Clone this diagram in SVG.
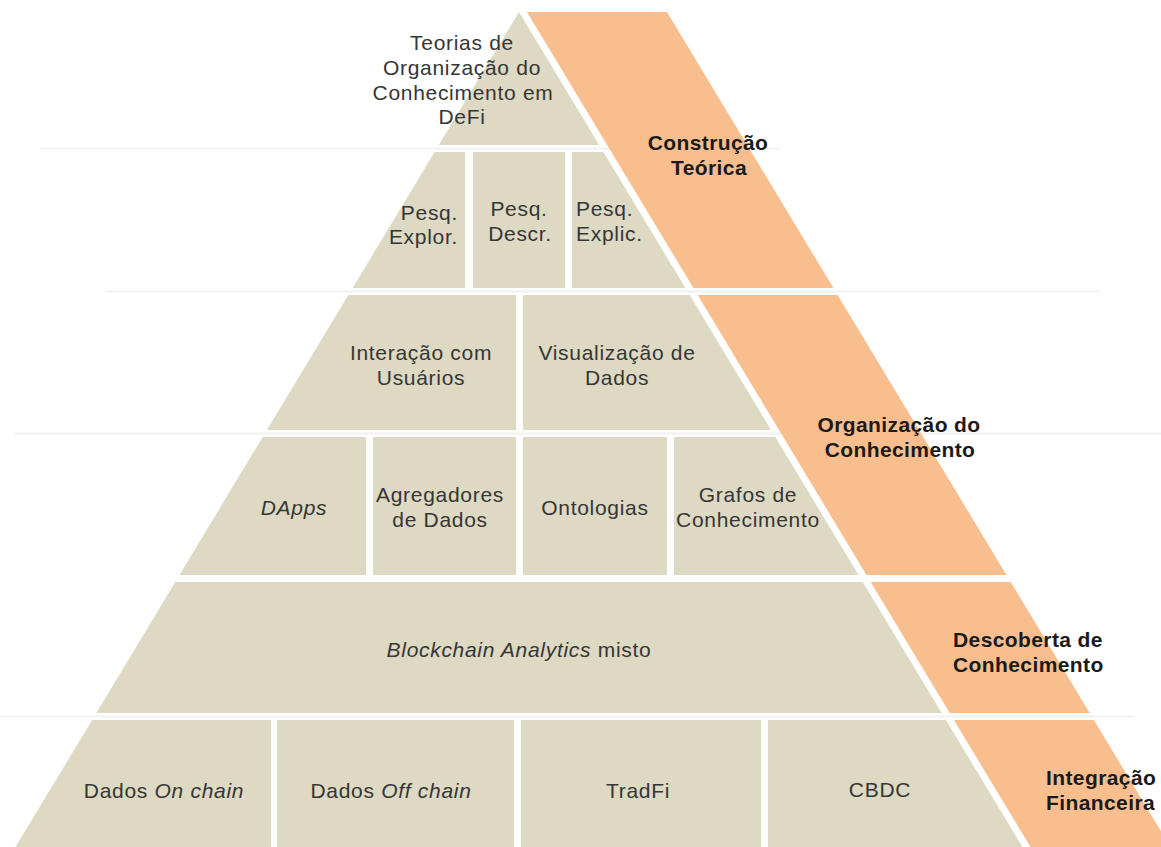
<svg xmlns="http://www.w3.org/2000/svg" width="1161" height="847" viewBox="0 0 1161 847">
<style>
.bg{fill:#ffffff}
.cell{fill:#DDD9C3}
.band{fill:#F9BE8E}
.rule{stroke:#f1f1f1;stroke-width:2;fill:none}
.t{font-family:"Liberation Sans",Arial,sans-serif;font-size:21px;fill:#363636;letter-spacing:0.7px}
.m{text-anchor:middle}
.e{text-anchor:end}
.i{font-style:italic}
.b{font-family:"Liberation Sans",Arial,sans-serif;font-size:21px;font-weight:bold;fill:#1a1a1a;letter-spacing:0.4px}
</style>
<rect class="bg" x="0" y="0" width="1161" height="847"/>
<g id="faint-rules">
<line class="rule" x1="40" y1="148.5" x2="780" y2="148.5"/>
<line class="rule" x1="105" y1="291.5" x2="1100" y2="291.5"/>
<line class="rule" x1="15" y1="433.5" x2="1161" y2="433.5"/>
<line class="rule" x1="0" y1="716.5" x2="1135" y2="716.5"/>
</g>
<g id="theory-top">
<polygon class="cell" points="519,12 599.2,145 438.8,145"/>
<text class="t m" x="462" y="50">Teorias de</text>
<text class="t m" x="462" y="75">Organização do</text>
<text class="t m" x="463" y="100">Conhecimento em</text>
<text class="t m" x="462" y="124">DeFi</text>
</g>
<g id="pesq-explor">
<polygon class="cell" points="434.6,152 465,152 465,288 352.6,288"/>
<text class="t e" x="458" y="220">Pesq.</text>
<text class="t e" x="458" y="244">Explor.</text>
</g>
<g id="pesq-descr">
<rect class="cell" x="473" y="152" width="92" height="136"/>
<text class="t m" x="519" y="216">Pesq.</text>
<text class="t m" x="520" y="241">Descr.</text>
</g>
<g id="pesq-explic">
<polygon class="cell" points="572,152 603.4,152 685.4,288 572,288"/>
<text class="t" x="576" y="216">Pesq.</text>
<text class="t" x="576" y="241">Explic.</text>
</g>
<g id="interacao">
<polygon class="cell" points="348.4,295 516,295 516,430 266.9,430"/>
<text class="t m" x="421" y="360">Interação com</text>
<text class="t m" x="421" y="385">Usuários</text>
</g>
<g id="visualizacao">
<polygon class="cell" points="523,295 689.6,295 771.1,430 523,430"/>
<text class="t m" x="617" y="360">Visualização de</text>
<text class="t m" x="617" y="385">Dados</text>
</g>
<g id="dapps">
<polygon class="cell" points="262.7,437 366,437 366,575 179.5,575"/>
<text class="t m i" x="294" y="515">DApps</text>
</g>
<g id="agregadores">
<rect class="cell" x="373" y="437" width="143" height="138"/>
<text class="t m" x="440" y="502">Agregadores</text>
<text class="t m" x="440" y="527">de Dados</text>
</g>
<g id="ontologias">
<rect class="cell" x="523" y="437" width="144" height="138"/>
<text class="t m" x="595" y="515">Ontologias</text>
</g>
<g id="grafos">
<polygon class="cell" points="674,437 775.3,437 858.5,575 674,575"/>
<text class="t m" x="748" y="502">Grafos de</text>
<text class="t m" x="748" y="527">Conhecimento</text>
</g>
<g id="blockchain-analytics">
<polygon class="cell" points="175.3,582 862.7,582 941.7,713 96.3,713"/>
<text class="t m" x="519" y="657"><tspan class="i">Blockchain Analytics</tspan> misto</text>
</g>
<g id="dados-on-chain">
<polygon class="cell" points="92.1,720 271,720 271,847 15.5,847"/>
<text class="t m" x="164" y="798">Dados <tspan class="i">On chain</tspan></text>
</g>
<g id="dados-off-chain">
<rect class="cell" x="277" y="720" width="237" height="127"/>
<text class="t m" x="391" y="798">Dados <tspan class="i">Off chain</tspan></text>
</g>
<g id="tradfi">
<rect class="cell" x="521" y="720" width="240" height="127"/>
<text class="t m" x="638" y="798">TradFi</text>
</g>
<g id="cbdc">
<polygon class="cell" points="768,720 945.9,720 1022.5,847 768,847"/>
<text class="t m" x="880" y="797">CBDC</text>
</g>
<g id="construcao-teorica">
<polygon class="band" points="527,12 667,12 833.4,288 693.4,288"/>
<text class="b m" x="708" y="150">Construção</text>
<text class="b m" x="709" y="175">Teórica</text>
</g>
<g id="organizacao-conhecimento">
<polygon class="band" points="697.6,295 837.6,295 1006.5,575 866.5,575"/>
<text class="b m" x="899" y="432">Organização do</text>
<text class="b m" x="900" y="457">Conhecimento</text>
</g>
<g id="descoberta-conhecimento">
<polygon class="band" points="870.7,582 1010.7,582 1089.7,713 949.7,713"/>
<text class="b" x="953" y="647">Descoberta de</text>
<text class="b" x="953" y="672">Conhecimento</text>
</g>
<g id="integracao-financeira">
<polygon class="band" points="953.9,720 1093.9,720 1170.5,847 1030.5,847"/>
<text class="b" x="1046" y="785">Integração</text>
<text class="b" x="1046" y="810">Financeira</text>
</g>
</svg>
